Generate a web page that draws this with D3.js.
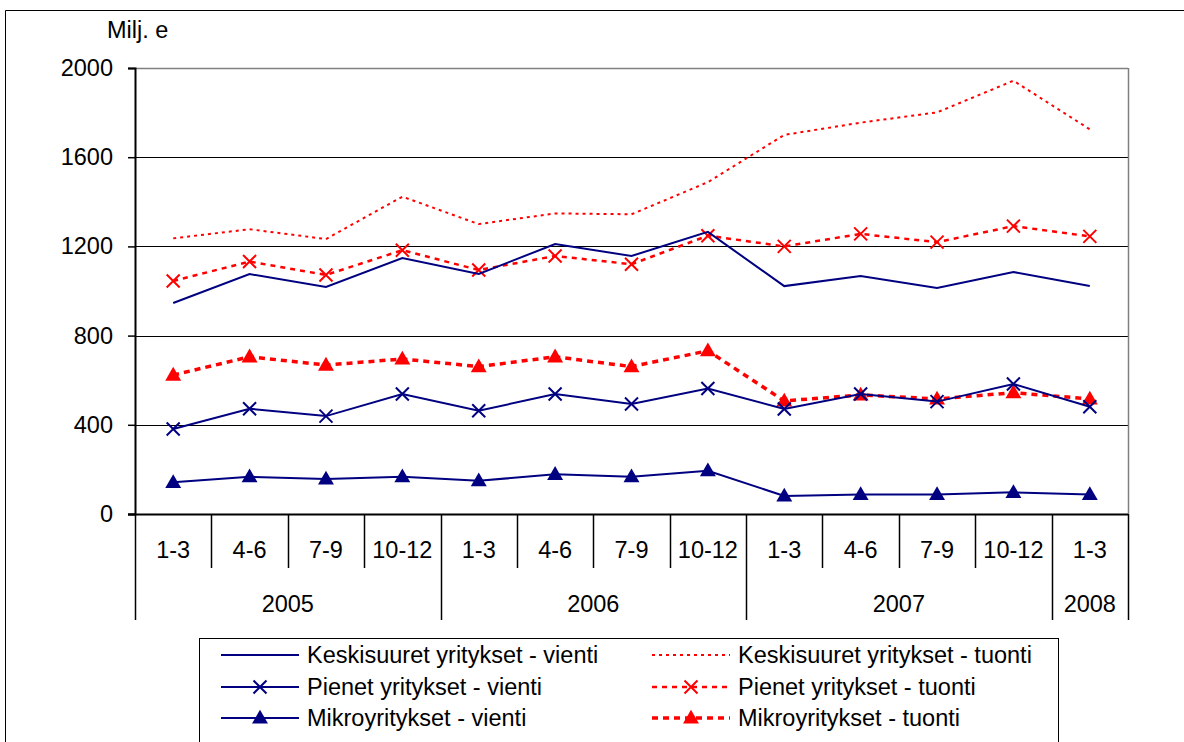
<!DOCTYPE html>
<html><head><meta charset="utf-8">
<script src="https://cdn.jsdelivr.net/npm/d3@7"></script>
<style>body{margin:0;background:#fff}svg{display:block}text{font-family:"Liberation Sans",Arial,sans-serif;fill:#000}</style>
</head><body><svg id="c" width="1184" height="742"></svg>
<script>
const quarters = ["1-3","4-6","7-9","10-12","1-3","4-6","7-9","10-12","1-3","4-6","7-9","10-12","1-3"];
const years = [{label:"2005",n:4},{label:"2006",n:4},{label:"2007",n:4},{label:"2008",n:1}];
const yTicks = [0,400,800,1200,1600,2000];
const keskiVienti = [946,1076,1018,1148,1076,1211,1157,1265,1022,1067,1013,1085,1022];
const keskiTuonti = [1236,1277,1233,1423,1300,1348,1344,1488,1700,1755,1801,1943,1725];
const pienetVienti = [381,472,439,538,463,538,493,563,471,538,504,583,481];
const pienetTuonti = [1045,1132,1072,1183,1094,1157,1120,1248,1200,1256,1219,1291,1245];
const mikroVienti = [142,167,157,167,149,178,167,194,81,88,88,97,88];
const mikroTuonti = [623,705,668,695,661,705,661,732,507,534,516,544,516];

const navy = "#000080", red = "#ff0000";
const FS = 23.5;
const series = [
  {name:"Keskisuuret yritykset - vienti", data:keskiVienti, color:navy, w:2, dash:null, marker:null},
  {name:"Pienet yritykset - vienti", data:pienetVienti, color:navy, w:2, dash:null, marker:"x"},
  {name:"Mikroyritykset - vienti", data:mikroVienti, color:navy, w:2, dash:null, marker:"tri"},
  {name:"Keskisuuret yritykset - tuonti", data:keskiTuonti, color:red, w:2, dash:"3,4", marker:null},
  {name:"Pienet yritykset - tuonti", data:pienetTuonti, color:red, w:2.5, dash:"5,5", marker:"x"},
  {name:"Mikroyritykset - tuonti", data:mikroTuonti, color:red, w:3.5, dash:"6,5", marker:"tri"}
];

const svg = d3.select("#c");
const L = 135, R = 1128, T = 68, B = 514;
const x = d3.scaleBand().domain(d3.range(quarters.length)).range([L,R]);
const y = d3.scaleLinear().domain([0,2000]).range([B,T]);

svg.append("path").attr("d","M5.5,742 V10.5 H1184").attr("fill","none").attr("stroke","#000").attr("stroke-width",1);

svg.append("g").selectAll("line").data(yTicks.filter(d=>d>0)).join("line")
  .attr("x1",L).attr("x2",R).attr("y1",d=>Math.round(y(d))+0.5).attr("y2",d=>Math.round(y(d))+0.5)
  .attr("stroke",d=>d===2000?"#808080":"#000").attr("stroke-width",d=>d===2000?1.5:1);
svg.append("line").attr("x1",R+0.5).attr("x2",R+0.5).attr("y1",T).attr("y2",B).attr("stroke","#808080").attr("stroke-width",1.5);

const ya = svg.append("g").attr("transform",`translate(${L},0)`)
  .call(d3.axisLeft(y).tickValues(yTicks).tickSize(7).tickPadding(15).tickFormat(d3.format("d")));
ya.select(".domain").attr("stroke","#000").attr("stroke-width",2);
ya.selectAll(".tick line").attr("stroke","#000").attr("stroke-width",1.5);
ya.selectAll("text").attr("font-size",FS).attr("font-family","Liberation Sans, Arial, sans-serif");

svg.append("text").attr("x",107).attr("y",38).attr("font-size",FS).text("Milj. e");

svg.append("line").attr("x1",L-7).attr("x2",R).attr("y1",B+0.5).attr("y2",B+0.5).attr("stroke","#000").attr("stroke-width",2);

const bw = x.bandwidth();
let yearStarts = [0]; years.reduce((a,yy)=>{yearStarts.push(a+yy.n);return a+yy.n;},0);
const bounds = d3.range(quarters.length+1);
svg.append("g").selectAll("line").data(bounds).join("line")
  .attr("x1",i=>Math.round(L+i*bw)+0.5).attr("x2",i=>Math.round(L+i*bw)+0.5)
  .attr("y1",B).attr("y2",i=>yearStarts.includes(i)?620:568)
  .attr("stroke","#000").attr("stroke-width",1.5);

svg.append("g").selectAll("text").data(quarters).join("text")
  .attr("x",(d,i)=>x(i)+bw/2).attr("y",558).attr("text-anchor","middle").attr("font-size",FS).text(d=>d);

let acc = 0;
years.forEach(yy=>{
  const cx = L + (acc + yy.n/2)*bw;
  svg.append("text").attr("x",cx).attr("y",612).attr("text-anchor","middle").attr("font-size",FS).text(yy.label);
  acc += yy.n;
});

const line = d3.line().x((d,i)=>x(i)+bw/2).y(d=>y(d));
const triPath = d3.symbol().type(d3.symbolTriangle).size(110);
function drawMarker(g, type, color, cx, cy){
  if(type==="x"){
    const s=6.5;
    g.append("path").attr("d",`M${cx-s},${cy-s}L${cx+s},${cy+s}M${cx-s},${cy+s}L${cx+s},${cy-s}`)
      .attr("stroke",color).attr("stroke-width",2).attr("fill","none");
  } else if(type==="tri"){
    g.append("path").attr("d",triPath()).attr("transform",`translate(${cx},${cy+1})`).attr("fill",color);
  }
}
const order = [3,4,5,0,1,2];
order.forEach(k=>{
  const s = series[k];
  const g = svg.append("g");
  g.append("path").datum(s.data).attr("d",line).attr("fill","none").attr("stroke",s.color)
    .attr("stroke-width",s.w).attr("stroke-dasharray",s.dash);
  if(s.marker) s.data.forEach((v,i)=>drawMarker(g,s.marker,s.color,x(i)+bw/2,y(v)));
});

svg.append("rect").attr("x",199.5).attr("y",638.5).attr("width",859).attr("height",120).attr("fill","#fff").attr("stroke","#000").attr("stroke-width",1);
const cols = [{lx:221,tx:307},{lx:652,tx:738}];
const rowsY = [655,687,718];
series.forEach((s,i)=>{
  const c = cols[Math.floor(i/3)], ry = rowsY[i%3];
  const g = svg.append("g");
  g.append("line").attr("x1",c.lx).attr("x2",c.lx+78).attr("y1",ry).attr("y2",ry)
    .attr("stroke",s.color).attr("stroke-width",s.w).attr("stroke-dasharray",s.dash);
  if(s.marker) drawMarker(g,s.marker,s.color,c.lx+39,ry);
  g.append("text").attr("x",c.tx).attr("y",ry+8).attr("font-size",FS).text(s.name);
});
</script></body></html>
